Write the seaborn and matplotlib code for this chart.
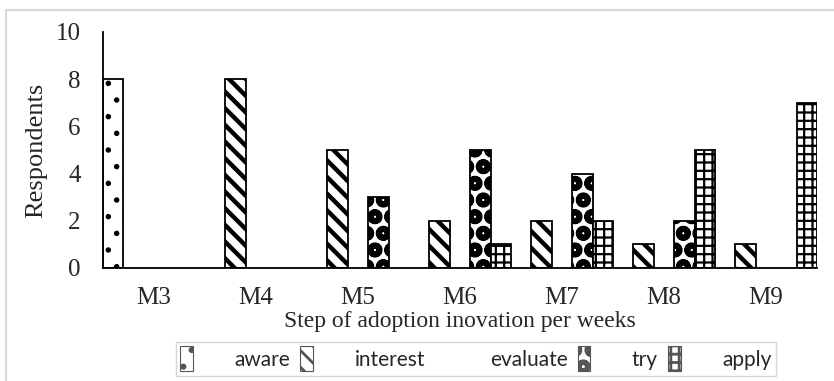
import matplotlib
matplotlib.use("Agg")
import matplotlib.pyplot as plt
import matplotlib.patches as mpatches
import seaborn as sns
import pandas as pd

# data
months = ["M3", "M4", "M5", "M6", "M7", "M8", "M9"]
stages = ["aware", "interest", "evaluate", "try", "apply"]
aware = [8, 0, 0, 0, 0, 0, 0]
interest = [0, 8, 5, 2, 2, 1, 1]
evaluate = [0, 0, 0, 0, 0, 0, 0]
tried = [0, 0, 3, 5, 4, 2, 0]
apply_ = [0, 0, 0, 1, 2, 5, 7]

hatches = {"aware": ".", "interest": "\\\\", "evaluate": "", "try": "oO", "apply": "++"}
hatch_lw = {"aware": 1.5, "interest": 3.2, "evaluate": 1.0, "try": 2.5, "apply": 1.6}

rows = []
for stage, vals in zip(stages, [aware, interest, evaluate, tried, apply_]):
    for m, v in zip(months, vals):
        rows.append({"month": m, "stage": stage, "count": v})
df = pd.DataFrame(rows)

sns.set_style("white")
plt.rcParams["hatch.linewidth"] = 2.0
plt.rcParams["font.family"] = ["Liberation Serif", "DejaVu Serif"]

fig = plt.figure(figsize=(8.34, 3.81), dpi=100)
ax = fig.add_axes([103 / 834, 1 - 268 / 381, 714 / 834, 236 / 381])

sns.barplot(data=df, x="month", y="count", hue="stage", order=months,
            hue_order=stages, width=1.0, palette=["white"] * 5,
            edgecolor="black", linewidth=1.3, ax=ax, legend=False)

for stage, cont in zip(stages, ax.containers):
    for bar in cont:
        bar.set_hatch(hatches[stage])
        if hasattr(bar, "set_hatch_linewidth"):
            bar.set_hatch_linewidth(hatch_lw[stage])
        if bar.get_height() == 0:
            bar.set_linewidth(0)

ax.set_ylim(0, 10)
ax.set_xlim(-0.5, len(months) - 0.5)
ax.set_yticks([0, 2, 4, 6, 8, 10])
ax.tick_params(axis="both", labelsize=18, length=0)
ax.tick_params(axis="x", pad=14)
ax.tick_params(axis="y", pad=16)
ax.set_ylabel("Respondents", fontsize=19, labelpad=6)
ax.set_xlabel("Step of adoption inovation per weeks", fontsize=17, labelpad=1)
for s in ["top", "right"]:
    ax.spines[s].set_visible(False)
for s in ["left", "bottom"]:
    ax.spines[s].set_color("black")
    ax.spines[s].set_linewidth(1.3)

handles = []
for stage in stages:
    if hatches[stage]:
        h = mpatches.Patch(facecolor="white", edgecolor="#555555",
                           hatch=hatches[stage], linewidth=0.8)
        if hasattr(h, "set_hatch_linewidth"):
            h.set_hatch_linewidth(1.2)
        handles.append(h)
    else:
        handles.append(mpatches.Patch(facecolor="white", edgecolor="white"))
leg = fig.legend(handles, stages, loc="lower center", ncol=5,
                 bbox_to_anchor=(476 / 834, -5 / 381), frameon=True, fancybox=False,
                 edgecolor="#cccccc", handlelength=0.6, handleheight=1.5,
                 columnspacing=0.5, handletextpad=2.0,
                 prop={"family": "Lato", "size": 15}, borderpad=0.2)

# light outer frame of the chart box
fig.add_artist(mpatches.Rectangle((6 / 834, -0.05), 1.0, (371 / 381) + 0.05,
                                  transform=fig.transFigure, fill=False,
                                  edgecolor="#d9d9d9", linewidth=1.5))

fig.savefig("out.png", dpi=100)
